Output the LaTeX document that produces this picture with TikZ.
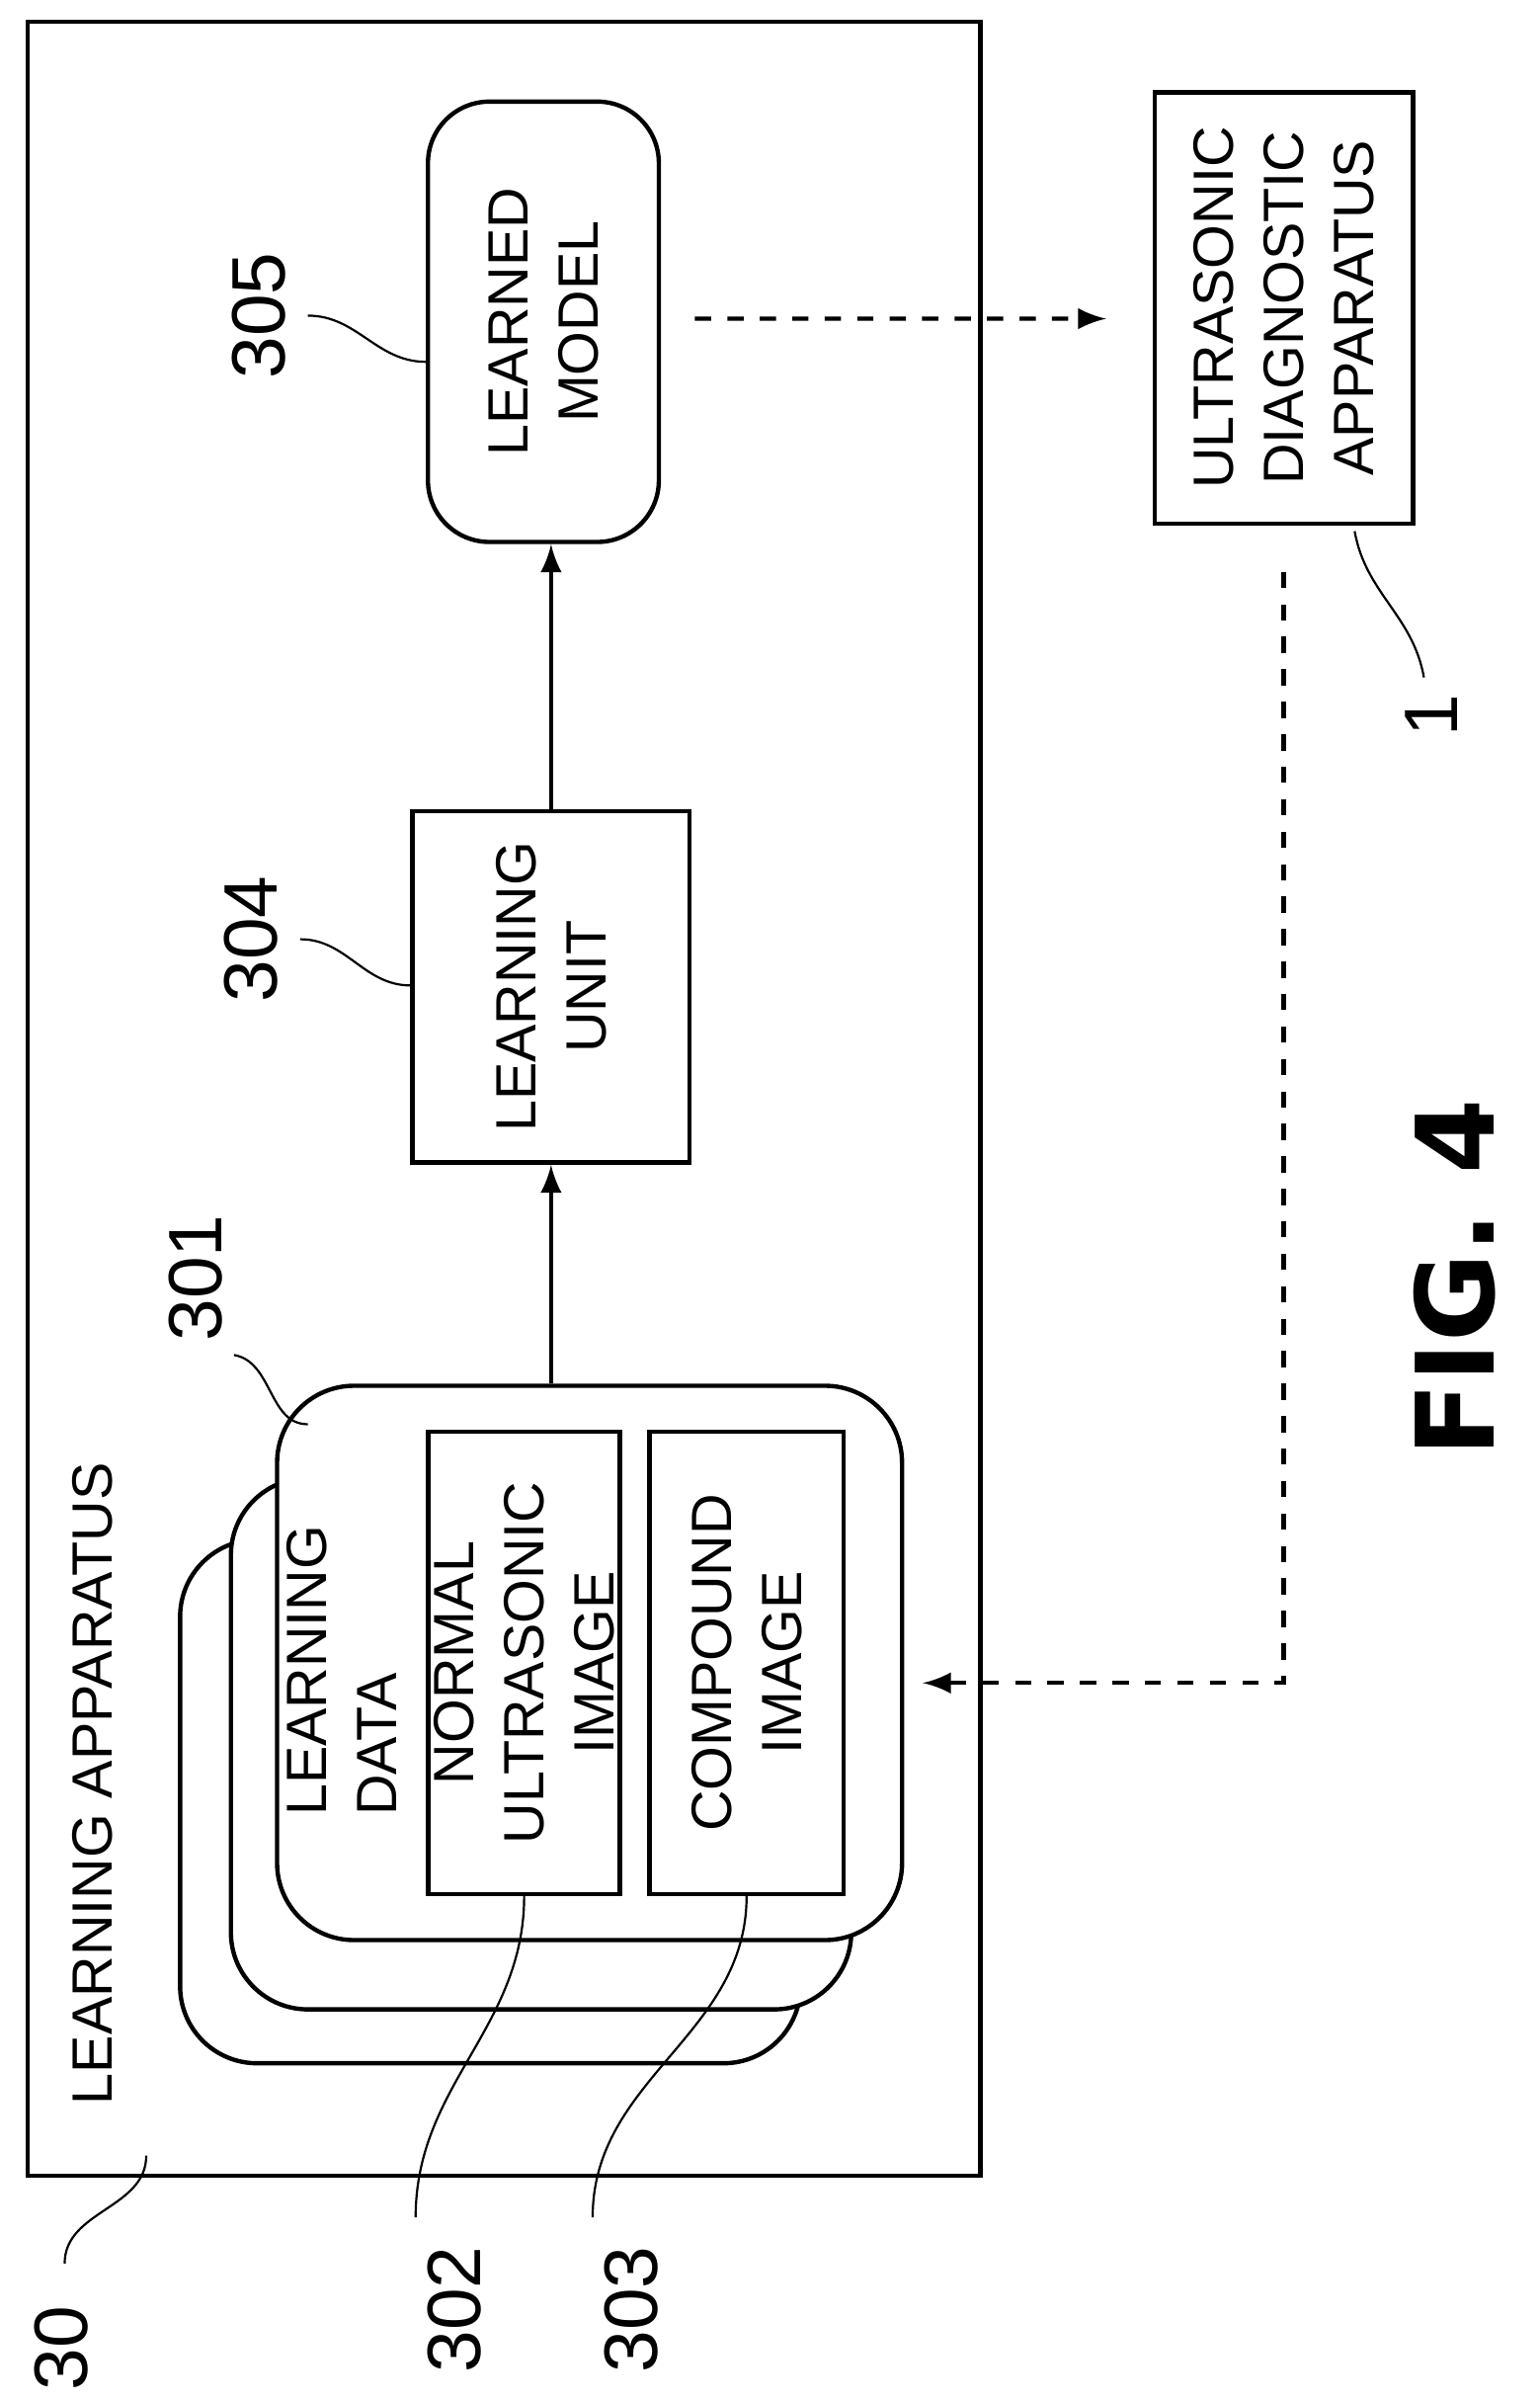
\documentclass[tikz,border=0pt]{standalone}
\usepackage{fontspec}
\setmainfont{Liberation Sans}
\newfontfamily\figfont{DejaVu Sans}
\usetikzlibrary{arrows,calc}
\tikzset{
	box/.style={draw,thick,rotate=90,align=center,font=\fontsize{10.5}{13}\selectfont,fill=white,inner sep=1pt},
	rbox/.style={box,rounded corners=0.4cm},
	ref/.style={rotate=90,font=\fontsize{14}{16}\selectfont},
	lead/.style={thin}
}
\begin{document}
\begin{tikzpicture}[>=latex,thick]
	\useasboundingbox (0,0) rectangle (10,-15.6);
	\draw[thick] (0.18,-0.14) rectangle (6.37,-14.13);
	\node [rotate=90,anchor=west,font=\fontsize{10.5}{13}\selectfont] (app) at (0.60,-13.8) {LEARNING APPARATUS};
	% boxes
	\node [rbox,minimum width=2.86cm,minimum height=1.5cm] (lm) at (3.53,-2.09) {LEARNED\\MODEL};
	\node [box,minimum width=2.8cm,minimum height=1.68cm] (uda) at (8.34,-2.00) {ULTRASONIC\\DIAGNOSTIC\\APPARATUS};
	\node [box,minimum width=2.28cm,minimum height=1.8cm] (lu) at (3.58,-6.41) {LEARNING\\UNIT};
	\node [rbox,minimum width=3.4cm,minimum height=4.03cm,rounded corners=0.5cm] (ld3) at (3.185,-11.70) {};
	\node [rbox,minimum width=3.45cm,minimum height=4.03cm,rounded corners=0.5cm] (ld2) at (3.515,-11.325) {};
	\node [rbox,minimum width=3.6cm,minimum height=4.06cm,rounded corners=0.5cm] (ld1) at (3.83,-10.80) {};
	\node [rotate=90,align=left,font=\fontsize{10.5}{13}\selectfont] (ldt) at (2.22,-10.85) {LEARNING\\DATA};
	\node [box,minimum width=3.0cm,minimum height=1.19cm] (nui) at (3.405,-10.80) {NORMAL\\ULTRASONIC\\IMAGE};
	\node [box,minimum width=3.0cm,minimum height=1.26cm] (ci) at (4.85,-10.80) {COMPOUND\\IMAGE};
	% connectors
	\draw[->] (lu.west |- ld1.east) -- (lu.west);
	\draw[->] (lu.east) -- (lu.east |- lm.west);
	\draw[->,dashed] ($(lm.south)+(0.22,0.02)$) -- ($(uda.north)+(-0.3,-0.07)$);
	\draw[->,dashed] ($(uda.west)+(0,-0.3)$) |- ($(ld1.south)+(0.12,-0.13)$);
	% reference numerals
	\node [ref] (n305) at (1.68,-2.05) {305};
	\draw[lead] (2.0,-2.05) to[out=0,in=180] ($(lm.north)+(0,-0.26)$);
	\node [ref] (n304) at (1.63,-6.10) {304};
	\draw[lead] (1.95,-6.10) to[out=0,in=180] ($(lu.north)+(0,0.01)$);
	\node [ref] (n301) at (1.27,-8.30) {301};
	\draw[lead] (1.52,-8.80) to[out=-10,in=180] (2.0,-9.25);
	\node [ref] (n1) at (9.30,-4.65) {1};
	\draw[lead] (9.25,-4.40) to[out=100,in=-80] (8.80,-3.45);
	\node [ref] (n302) at (2.95,-15.00) {302};
	\draw[lead] (2.70,-14.40) to[out=90,in=-90] (nui.west);
	\node [ref] (n303) at (4.10,-15.00) {303};
	\draw[lead] (3.85,-14.40) to[out=90,in=-90] (ci.west);
	\node [ref] (n30) at (0.40,-15.25) {30};
	\draw[lead] (0.42,-14.70) to[out=90,in=-90] (0.95,-14.00);
	\node [rotate=90,font=\figfont\bfseries\fontsize{20}{24}\selectfont] (fig) at (9.45,-8.30) {FIG. 4};
\end{tikzpicture}
\end{document}
